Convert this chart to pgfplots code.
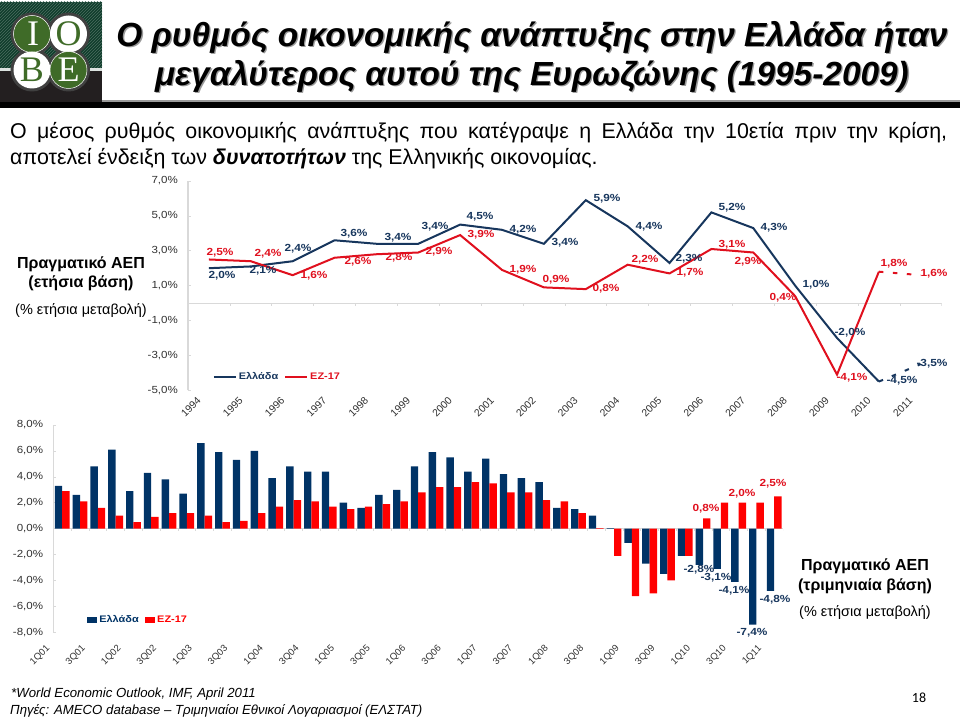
\documentclass[border=0pt]{standalone}
\usepackage{fontspec}
\usepackage{pgfplots}
\pgfplotsset{compat=1.18}
\usetikzlibrary{patterns}
\setmainfont{Liberation Sans}
\newfontfamily\tickf[FakeStretch=1.12]{Liberation Sans}
\newfontfamily\labf[FakeStretch=1.15]{Liberation Sans}
\newfontfamily\logof{Liberation Serif}
\newfontfamily\numf{Carlito}
\definecolor{navy}{HTML}{17365D}
\definecolor{lred}{HTML}{E0101E}
\definecolor{bnavy}{HTML}{003366}
\definecolor{bred}{HTML}{FF0000}
\definecolor{axgray}{HTML}{D9D9D9}
\definecolor{ticktxt}{HTML}{303030}
\definecolor{logogreen}{HTML}{0F3D2B}
\definecolor{logoleaf}{HTML}{3F6B28}
\definecolor{logodark}{HTML}{231F20}
\def\px(#1,#2){(#1pt,{(717-(#2))*1pt})}
\newcommand{\lab}[4]{\node[font=\fontsize{10.3}{12}\labf\bfseries,text=#4,inner sep=0pt] at \px(#1,#2) {#3};}
\pgfplotstableread{
x gr ez
0 2.0 2.5
1 2.1 2.4
2 2.4 1.6
3 3.6 2.6
4 3.4 2.8
5 3.4 2.9
6 4.5 3.9
7 4.2 1.9
8 3.4 0.9
9 5.9 0.8
10 4.4 2.2
11 2.3 1.7
12 5.2 3.1
13 4.3 2.9
14 1.0 0.4
15 -2.0 -4.1
16 -4.5 1.8
}\annual
\pgfplotstableread{
x gr ez
16 -4.5 1.8
17 -3.5 1.6
}\annualf
\pgfplotstableread{
x gr ez
0 3.3 2.9
1 2.6 2.1
2 4.8 1.6
3 6.1 1.0
4 2.9 0.5
5 4.3 0.9
6 3.8 1.2
7 2.7 1.2
8 6.6 1.0
9 5.9 0.5
10 5.3 0.6
11 6.0 1.2
12 3.9 1.7
13 4.8 2.2
14 4.4 2.1
15 4.4 1.7
16 2.0 1.5
17 1.6 1.7
18 2.6 1.9
19 3.0 2.1
20 4.8 2.8
21 5.9 3.2
22 5.5 3.2
23 4.4 3.6
24 5.4 3.5
25 4.2 2.8
26 3.9 2.8
27 3.6 2.2
28 1.6 2.1
29 1.5 1.2
30 1.0 0.05
31 0.05 -2.1
32 -1.1 -5.2
33 -2.7 -5.0
34 -3.5 -4.0
35 -2.1 -2.1
36 -2.8 0.8
37 -3.1 2.0
38 -4.1 2.0
39 -7.4 2.0
40 -4.8 2.5
}\quarterly
\pgfplotsset{common/.style={
  scale only axis,
  axis y line*=left,
  axis x line*=bottom,
  axis line style={-,draw=axgray},
  y axis line style={line width=1.4pt},
  x axis line style={draw=none},
  ytick style={draw=axgray,line width=.6pt},
  xtick style={draw=none},
  major tick length=3pt,
  yticklabel={\pgfmathprintnumber{\tick}\%},
  /pgf/number format/.cd,fixed,fixed zerofill,precision=1,use comma,assume math mode=true,
  /pgfplots/.cd,
  yticklabel style={font=\fontsize{10.3}{12}\tickf,text=ticktxt,inner sep=0pt,xshift=-10pt},
  legend cell align=left,
  legend style={draw=none,fill=none,font=\fontsize{9.5}{11}\labf\bfseries,inner sep=0pt,outer sep=0pt,
     /tikz/every even column/.append style={column sep=4pt}},
}}
\begin{document}
\begin{tikzpicture}
\useasboundingbox (0,0) rectangle (960pt,717pt);
% logo
\fill[logogreen] \px(0,2) rectangle \px(102,68);
\path[pattern=north east lines,pattern color=white!25!logogreen] \px(0,2) rectangle \px(102,68);
\fill[white!85!logogreen] \px(0,68) rectangle \px(102,71);
\fill[logodark] \px(0,71) rectangle \px(102,102);
\foreach \cx/\cy in {32/34,68.5/34,32/70,68.5/70}{\fill[black!75] \px(\cx,\cy) circle (21.5pt);}
\fill[logoleaf,draw=white,line width=.5pt] \px(32,34) circle (18.5pt);
\fill[white] \px(68.5,34) circle (18.5pt);
\fill[white] \px(32,70) circle (18.5pt);
\fill[logoleaf,draw=white,line width=.5pt] \px(68.5,70) circle (18.5pt);
\node[font=\fontsize{36}{36}\logof,text=white] at \px(33,34) {Ι};
\node[font=\fontsize{36}{36}\logof,text=logoleaf] at \px(68.5,34) {Ο};
\node[font=\fontsize{36}{36}\logof,text=logoleaf] at \px(32,70) {Β};
\node[font=\fontsize{36}{36}\logof,text=white] at \px(68.5,70) {Ε};
% title
\fill[black!40] \px(102,100.5) rectangle \px(960,102);
\fill[black] \px(0,102) rectangle \px(960,108);
\foreach \dx/\col in {1.3/black!40,0/black}{
\node[font=\fontsize{33.4}{33.4}\bfseries\itshape,text=\col,inner sep=0pt] at \px(532+\dx,37+\dx) {Ο ρυθμός οικονομικής ανάπτυξης στην Ελλάδα ήταν};
\node[font=\fontsize{33.4}{33.4}\bfseries\itshape,text=\col,inner sep=0pt] at \px(532+\dx,76+\dx) {μεγαλύτερος αυτού της Ευρωζώνης (1995-2009)};
}
\node[font=\fontsize{21.4}{24}\selectfont,anchor=base west,inner sep=0pt] at \px(10,139) {\makebox[937pt][s]{Ο μέσος ρυθμός οικονομικής ανάπτυξης που κατέγραψε η Ελλάδα την 10ετία πριν την κρίση,}};
\node[font=\fontsize{21.4}{24}\selectfont,anchor=base west,inner sep=0pt] at \px(10,165) {αποτελεί ένδειξη των {\bfseries\itshape δυνατοτήτων} της Ελληνικής οικονομίας.};
% annual axis
\begin{axis}[common,at={(188pt,326.7pt)},anchor=south west,width=753.7pt,height=209.3pt,
  xmin=-0.5,xmax=17.5,ymin=-5,ymax=7,ytick={-5,-3,-1,1,3,5,7},
  xtick={0,...,17},xticklabels={1994,1995,1996,1997,1998,1999,2000,2001,2002,2003,2004,2005,2006,2007,2008,2009,2010,2011},
  xticklabel style={font=\fontsize{10.3}{12}\selectfont,text=ticktxt,inner sep=0pt,anchor=center,xshift=-18pt,yshift=-16.5pt,rotate=45},
  legend style={at={(0.033,0.0635)},anchor=west},legend columns=2,
  legend image code/.code={\draw[#1,line width=2pt] (0pt,0pt) -- (22pt,0pt);},
]
\draw[axgray,line width=.9pt] (axis cs:-0.5,0) -- (axis cs:17.5,0);
\pgfplotsinvokeforeach{0,...,18}{\draw[axgray,line width=.6pt] (axis cs:#1-0.5,0) -- ++(0pt,-2.5pt);}
\addplot[navy,line width=2pt] table[x=x,y=gr]{\annual};
\addlegendentry{\textcolor{navy}{Ελλάδα}}
\addplot[lred,line width=2pt] table[x=x,y=ez]{\annual};
\addlegendentry{\textcolor{lred}{ΕΖ-17}}
\addplot[navy,line width=2pt,dash pattern=on 4.5pt off 9.5pt,forget plot] table[x=x,y=gr]{\annualf};
\addplot[lred,line width=2pt,dash pattern=on 4.5pt off 9.5pt,forget plot] table[x=x,y=ez]{\annualf};
\end{axis}
% quarterly axis
\begin{axis}[common,at={(53.3pt,84.7pt)},anchor=south west,width=729.8pt,height=207.3pt,
  xmin=-0.5,xmax=40.5,ymin=-8,ymax=8,ytick={-8,-6,...,8},
  ybar=0pt,bar width=7.4pt,
  xtick={0,2,...,40},xticklabels={1Q01,3Q01,1Q02,3Q02,1Q03,3Q03,1Q04,3Q04,1Q05,3Q05,1Q06,3Q06,1Q07,3Q07,1Q08,3Q08,1Q09,3Q09,1Q10,3Q10,1Q11},
  xticklabel style={font=\fontsize{9.5}{12}\selectfont,text=ticktxt,inner sep=0pt,anchor=center,xshift=-22pt,yshift=-20pt,rotate=45},
  legend style={at={(0.046,0.059)},anchor=west},legend columns=2,
  legend image code/.code={\fill[#1] (0pt,-3pt) rectangle (10.5pt,3pt);},
]
\draw[axgray,line width=.9pt] (axis cs:-0.5,0) -- (axis cs:40.5,0);
\pgfplotsinvokeforeach{0,...,41}{\draw[axgray,line width=.6pt] (axis cs:#1-0.5,0) -- ++(0pt,-2.5pt);}
\addplot[fill=bnavy,draw=none] table[x=x,y=gr]{\quarterly};
\addlegendentry{\textcolor{bnavy}{Ελλάδα}}
\addplot[fill=bred,draw=none] table[x=x,y=ez]{\quarterly};
\addlegendentry{\textcolor{bred}{ΕΖ-17}}
\end{axis}
% data labels annual Greece
\lab{222}{276}{2,0\%}{navy}\lab{263}{271}{2,1\%}{navy}\lab{298}{249}{2,4\%}{navy}
\lab{354}{234}{3,6\%}{navy}\lab{398}{238}{3,4\%}{navy}\lab{435}{227}{3,4\%}{navy}
\lab{480}{217}{4,5\%}{navy}\lab{523}{230}{4,2\%}{navy}\lab{565}{243}{3,4\%}{navy}
\lab{607}{199}{5,9\%}{navy}\lab{649}{227}{4,4\%}{navy}\lab{689}{259}{2,3\%}{navy}
\lab{732}{208}{5,2\%}{navy}\lab{774}{228}{4,3\%}{navy}\lab{816}{285}{1,0\%}{navy}
\lab{850}{333}{-2,0\%}{navy}\lab{902}{381}{-4,5\%}{navy}\lab{932}{364}{-3,5\%}{navy}
% data labels annual EZ
\lab{220}{253}{2,5\%}{lred}\lab{268}{254}{2,4\%}{lred}\lab{314}{276}{1,6\%}{lred}
\lab{358}{262}{2,6\%}{lred}\lab{399}{258}{2,8\%}{lred}\lab{439}{252}{2,9\%}{lred}
\lab{481}{235}{3,9\%}{lred}\lab{523}{270}{1,9\%}{lred}\lab{556}{280}{0,9\%}{lred}
\lab{606}{289}{0,8\%}{lred}\lab{645}{260}{2,2\%}{lred}\lab{690}{273}{1,7\%}{lred}
\lab{732}{245}{3,1\%}{lred}\lab{748}{262}{2,9\%}{lred}\lab{783}{298}{0,4\%}{lred}
\lab{852}{378}{-4,1\%}{lred}\lab{894}{264}{1,8\%}{lred}\lab{934}{274}{1,6\%}{lred}
% data labels quarterly
\lab{706}{509}{0,8\%}{lred}\lab{742}{494}{2,0\%}{lred}\lab{773}{484}{2,5\%}{lred}
\lab{699}{570}{-2,8\%}{navy}\lab{716}{578}{-3,1\%}{navy}\lab{734}{591}{-4,1\%}{navy}
\lab{752}{633}{-7,4\%}{navy}\lab{775}{600}{-4,8\%}{navy}
% annotations
\node[font=\fontsize{16}{18}\bfseries,inner sep=0pt] at \px(81,264) {Πραγματικό ΑΕΠ};
\node[font=\fontsize{16}{18}\bfseries,inner sep=0pt] at \px(81,283) {(ετήσια βάση)};
\node[font=\fontsize{14.5}{16}\selectfont,inner sep=0pt] at \px(81,311) {(\% ετήσια μεταβολή)};
\node[font=\fontsize{16}{18}\bfseries,inner sep=0pt] at \px(865,566) {Πραγματικό ΑΕΠ};
\node[font=\fontsize{16}{18}\bfseries,inner sep=0pt] at \px(865,586) {(τριμηνιαία βάση)};
\node[font=\fontsize{14.5}{16}\selectfont,inner sep=0pt] at \px(865,613) {(\% ετήσια μεταβολή)};
\node[font=\fontsize{13.2}{16}\itshape,anchor=base west,inner sep=0pt] at \px(11,697) {*World Economic Outlook, IMF, April 2011};
\node[font=\fontsize{13.2}{16}\itshape,anchor=base west,inner sep=0pt] at \px(10,714) {Πηγές: AMECO database – Τριμηνιαίοι Εθνικοί Λογαριασμοί (ΕΛΣΤΑΤ)};
\node[font=\fontsize{14}{16}\numf,inner sep=0pt] at \px(919,698) {18};
\end{tikzpicture}
\end{document}
